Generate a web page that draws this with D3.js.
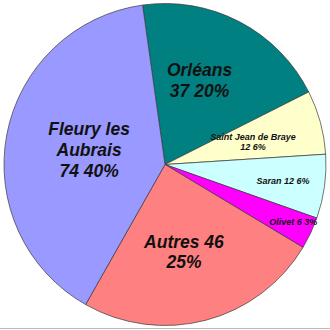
<!DOCTYPE html>
<html>
<head>
<meta charset="utf-8">
<script src="https://cdn.jsdelivr.net/npm/d3@7"></script>
<style>
  body { margin: 0; background: #fff; }
  text { font-family: "Liberation Sans", Arial, sans-serif; font-weight: bold; font-style: italic; fill: #111; }
</style>
</head>
<body>
<svg id="pie"></svg>
<script>
// slices, clockwise from the top
var towns = ["Orléans", "Saint Jean de Braye", "Saran", "Olivet", "Autres", "Fleury les Aubrais"];
var counts = [37, 12, 12, 6, 46, 74];
var percents = ["20%", "6%", "6%", "3%", "25%", "40%"];
var colors = ["#008080", "#FFFFCC", "#CCFFFF", "#FF00FF", "#FF8080", "#9999FF"];

// how each label is broken into lines
var labelLines = [
    ["Orléans", "37 20%"],
    ["Saint Jean de Braye", "12 6%"],
    ["Saran 12 6%"],
    ["Olivet 6 3%"],
    ["Autres 46", "25%"],
    ["Fleury les", "Aubrais", "74 40%"]
];

// label placement: radius fraction, nudge, font size
var labelLayout = [
    {r: 0.57, dx: -8, dy: -3, size: 17.5},
    {r: 0.56, dx: 1, dy: 1, size: 9},
    {r: 0.74, dx: 0, dy: 0, size: 9},
    {r: 0.86, dx: 3, dy: -2, size: 9},
    {r: 0.56, dx: -4, dy: 0, size: 17.5},
    {r: 0.48, dx: 0, dy: 0, size: 17.5}
];

var initPie = function()
{
    var screen = {width: 330, height: 330}
    var center = {x: 165, y: 164.5}
    var radius = 161

    var svg = d3.select("#pie")
        .attr("width", screen.width)
        .attr("height", screen.height)

    var slices = towns.map(function(t, i) {
        return {town: t, count: counts[i], pct: percents[i], color: colors[i], lines: labelLines[i], layout: labelLayout[i]}
    })

    var startAngle = -8 * Math.PI / 180
    var pie = d3.pie()
        .value(function(d) { return d.count })
        .sort(null)
        .startAngle(startAngle)
        .endAngle(startAngle + 2 * Math.PI)

    var arc = d3.arc().innerRadius(0).outerRadius(radius)

    var target = svg.append("g")
        .attr("transform", "translate(" + center.x + "," + center.y + ")")

    var arcs = pie(slices)

    target.selectAll("path")
        .data(arcs)
        .enter()
        .append("path")
        .attr("d", arc)
        .attr("fill", function(d) { return d.data.color })
        .attr("stroke", "#3a3a3a")
        .attr("stroke-width", 0.7)

    var labels = target.selectAll("g.label")
        .data(arcs)
        .enter()
        .append("g")
        .classed("label", true)
        .attr("transform", function(d) {
            var lay = d.data.layout
            var la = d3.arc().innerRadius(radius * lay.r).outerRadius(radius * lay.r)
            var c = la.centroid(d)
            return "translate(" + (c[0] + lay.dx) + "," + (c[1] + lay.dy) + ")"
        })

    labels.each(function(d) {
        var g = d3.select(this)
        var size = d.data.layout.size
        var lh = size * 1.2
        var n = d.data.lines.length
        d.data.lines.forEach(function(line, k) {
            g.append("text")
                .text(line)
                .attr("text-anchor", "middle")
                .attr("font-size", size)
                .attr("x", 0)
                .attr("y", (k - (n - 1) / 2) * lh + size * 0.36)
        })
    })

    // thin grey edge at the bottom of the picture
    svg.append("line")
        .attr("x1", 0).attr("x2", screen.width)
        .attr("y1", 328.5).attr("y2", 328.5)
        .attr("stroke", "#bbbbbb")
        .attr("stroke-width", 1)
}

initPie();
</script>
</body>
</html>
